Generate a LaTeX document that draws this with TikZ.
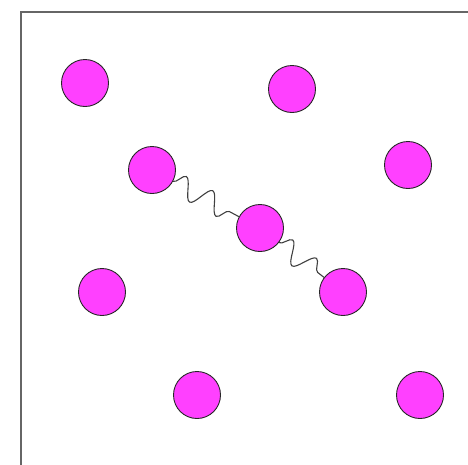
\documentclass[tikz,border=0pt]{standalone}
\usetikzlibrary{decorations.pathmorphing}
\definecolor{ball}{RGB}{255,64,255}
\begin{document}
\begin{tikzpicture}[x=1pt,y=-1pt,
  ball/.style={circle,draw=black!85,line width=0.9pt,fill=ball,minimum size=47pt,inner sep=0pt},
  spring/.style={decorate,decoration={snake,segment length=30pt,amplitude=10.5pt},line width=1.1pt,draw=black!75}]
\useasboundingbox (0,0) rectangle (468,464);
\draw[line width=1.4pt,draw=black!60] (21,480) -- (21,12) -- (480,12);
\node[ball] (b1) at (85,83) {};
\node[ball] (b2) at (292,89) {};
\node[ball] (b3) at (152,170) {};
\node[ball] (b4) at (408,165) {};
\node[ball] (b5) at (260,228) {};
\node[ball] (b6) at (102,292) {};
\node[ball] (b7) at (343,292) {};
\node[ball] (b8) at (197,395) {};
\node[ball] (b9) at (420,395) {};
\draw[spring] (b3) -- (b5);
\draw[spring] (b5) -- (b7);
\end{tikzpicture}
\end{document}
